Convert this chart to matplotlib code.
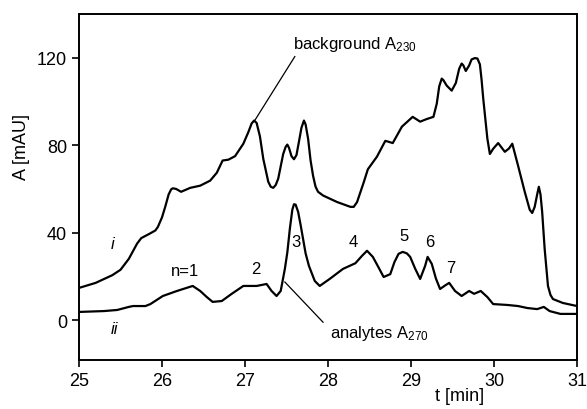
import numpy as np
import matplotlib
matplotlib.use('Agg')
import matplotlib.pyplot as plt

# ------------------------------------------------------------------------------------------ #
# datos leidos del cromatograma (t en min, A en mAU)

# curva i: background A230
t_fondo = [25.0, 25.2, 25.4, 25.5, 25.6, 25.7, 25.75, 25.85, 25.92, 25.95, 26.0, 26.04,
           26.08, 26.11, 26.13, 26.17, 26.23, 26.34, 26.46, 26.58, 26.66, 26.73, 26.8, 26.88,
           26.98, 27.04, 27.08, 27.11, 27.14, 27.18, 27.22, 27.28, 27.31, 27.34, 27.37, 27.4,
           27.46, 27.49, 27.51, 27.53, 27.56, 27.59, 27.62, 27.65, 27.68, 27.71, 27.73, 27.76,
           27.79, 27.82, 27.85, 27.88, 27.94, 28.11, 28.27, 28.31, 28.35, 28.43, 28.48, 28.59,
           28.69, 28.72, 28.78, 28.89, 29.02, 29.11, 29.19, 29.27, 29.31, 29.34, 29.37, 29.39,
           29.43, 29.49, 29.54, 29.58, 29.61, 29.63, 29.66, 29.7, 29.73, 29.77, 29.8, 29.83,
           29.85, 29.87, 29.92, 29.95, 29.99, 30.05, 30.09, 30.13, 30.18, 30.22, 30.29, 30.37,
           30.43, 30.46, 30.49, 30.52, 30.54, 30.56, 30.58, 30.61, 30.65, 30.68, 30.71, 30.83,
           31.0]
a_fondo = [14.7, 17.0, 20.5, 23.0, 28.0, 35.0, 37.5, 39.5, 41.0, 42.6, 47.0, 52.0,
           57.5, 59.8, 60.3, 60.0, 58.7, 60.5, 61.5, 63.8, 67.4, 73.0, 73.4, 75.0,
           80.7, 86.0, 90.0, 91.3, 90.2, 84.0, 73.8, 63.3, 61.0, 60.5, 61.8, 64.7,
           76.0, 79.3, 80.3, 78.8, 75.0, 73.6, 75.5, 81.7, 88.0, 91.3, 89.5, 83.0,
           73.0, 66.0, 61.0, 58.7, 57.0, 54.0, 51.8, 51.8, 54.0, 63.0, 69.0, 74.8,
           82.0, 81.7, 81.0, 88.5, 93.0, 90.8, 92.0, 93.0, 99.0, 107.0, 110.5, 109.8,
           107.3, 105.0, 108.5, 115.0, 117.4, 116.6, 114.0, 116.5, 119.3, 119.9, 119.7, 117.0,
           110.0, 101.4, 83.0, 76.0, 78.4, 81.0, 79.0, 77.0, 78.5, 80.7, 70.6, 58.7,
           50.5, 49.0, 51.8, 57.5, 61.0, 57.5, 49.5, 32.6, 15.6, 11.5, 9.6, 7.8,
           6.4]

# curva ii: analytes A270
t_analito = [25.0, 25.3, 25.46, 25.6, 25.65, 25.8, 25.86, 26.01, 26.18, 26.37, 26.46, 26.54,
             26.61, 26.72, 26.84, 26.98, 27.14, 27.26, 27.32, 27.38, 27.43, 27.48, 27.51,
             27.54, 27.57, 27.59, 27.61, 27.64, 27.67, 27.7, 27.73, 27.77, 27.84, 27.9, 28.02,
             28.18, 28.33, 28.41, 28.47, 28.54, 28.61, 28.67, 28.75, 28.8, 28.85, 28.9, 28.95,
             28.99, 29.05, 29.11, 29.17, 29.2, 29.25, 29.3, 29.35, 29.41, 29.46, 29.53,
             29.61, 29.7, 29.76, 29.84, 29.92, 29.99, 30.16, 30.29, 30.4, 30.52, 30.6, 30.67,
             30.8, 31.0]
a_analito = [3.7, 4.1, 4.6, 6.0, 6.4, 6.4, 7.3, 11.0, 13.3, 15.6, 13.3, 10.5,
             8.3, 8.7, 12.0, 15.6, 15.6, 16.5, 13.3, 11.0, 13.3, 23.4, 31.0,
             41.7, 50.5, 53.0, 52.8, 49.5, 43.5, 37.0, 30.5, 24.8, 17.9, 15.6, 18.8,
             23.4, 26.0, 29.4, 31.7, 28.9, 24.0, 19.7, 21.0, 26.5, 30.3, 31.2, 30.5,
             28.9, 23.5, 18.8, 24.8, 28.9, 25.7, 19.0, 14.2, 15.8, 17.0, 13.3,
             11.0, 13.3, 12.0, 13.3, 10.5, 7.3, 6.9, 6.4, 5.5, 5.0, 6.0, 4.1,
             2.8, 2.8]

# etiquetas de los picos
picos = ['n=1', '2', '3', '4', '5', '6', '7']
t_picos = [26.28, 27.13, 27.61, 28.31, 28.92, 29.23, 29.48]
a_picos = [22.5, 23.4, 36.0, 36.0, 38.5, 36.0, 24.0]

x_ticks = [25, 26, 27, 28, 29, 30, 31]
y_ticks = [0, 40, 80, 120]

# ------------------------------------------------------------------------------------------ #
plt.rcParams['font.family'] = ['Liberation Sans', 'DejaVu Sans']
plt.rcParams['mathtext.default'] = 'regular'

fig = plt.figure(figsize=(5.87, 4.10), dpi=100)
ax = fig.add_axes([0.1346, 0.1195, 0.8484, 0.8435])

ax.plot(t_fondo, a_fondo, color='black', lw=1.6, solid_joinstyle='round')
ax.plot(t_analito, a_analito, color='black', lw=1.6, solid_joinstyle='round')

# lineas de las etiquetas
ax.plot([27.6, 27.12], [120.6, 91.5], color='black', lw=0.9)
ax.plot([27.48, 27.94], [17.4, -1.0], color='black', lw=0.9)
ax.text(27.58, 126.5, 'background A$_{230}$', fontsize=12, ha='left', va='center')
ax.text(28.02, -5.5, 'analytes A$_{270}$', fontsize=12, ha='left', va='center')
ax.text(25.4, 35, 'i', fontsize=12, style='italic', ha='center', va='center')
ax.text(25.43, -4, 'ii', fontsize=12, style='italic', ha='center', va='center')

for nombre, tp, ap in zip(picos, t_picos, a_picos):
    ax.text(tp, ap, nombre, fontsize=12, ha='center', va='center')

# ------------------------------------------------------------------------------------------ #
ax.set_xlim(25, 31)
ax.set_ylim(-18.3, 140)
ax.set_xticks(x_ticks)
ax.set_yticks(y_ticks)
ax.tick_params(direction='out', length=5, width=1.2, labelsize=13)
for lado in ax.spines.values():
    lado.set_linewidth(1.4)

ax.set_xlabel('t [min]', fontsize=13)
ax.xaxis.set_label_coords(0.765, -0.078)
ax.set_ylabel('A [mAU]', fontsize=13)
ax.yaxis.set_label_coords(-0.098, 0.62)

fig.savefig('out.png', dpi=100)
